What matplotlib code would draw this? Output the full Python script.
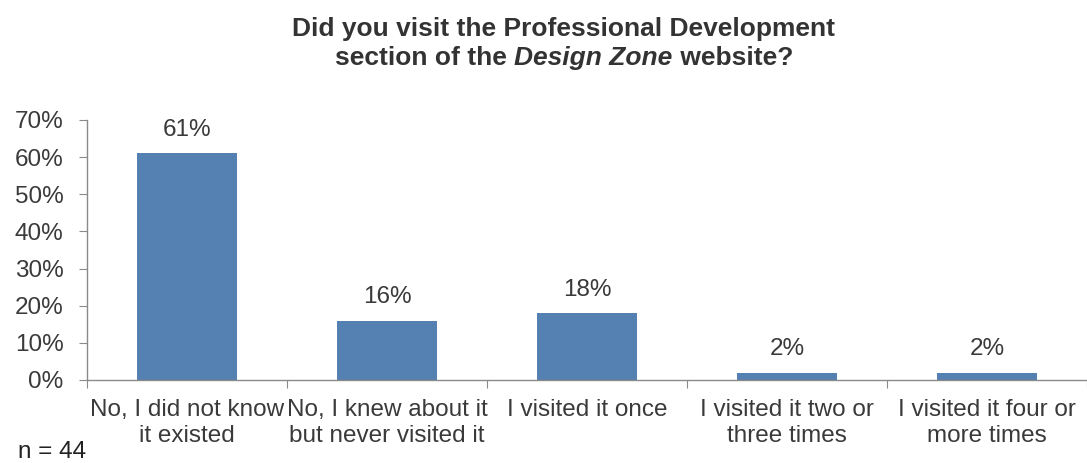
import matplotlib
matplotlib.use("Agg")
import matplotlib.pyplot as plt
import numpy as np

plt.rcParams['font.family'] = ['Liberation Sans', 'DejaVu Sans']

# Survey answers and share of respondents (%)
categories = ['No, I did not know\nit existed',
              'No, I knew about it\nbut never visited it',
              'I visited it once',
              'I visited it two or\nthree times',
              'I visited it four or\nmore times']
shares = [61, 16, 18, 2, 2]
y_ticks = [0, 10, 20, 30, 40, 50, 60, 70]
sample_note = 'n = 44'

bar_color = '#5480B2'
text_color = '#3a3a3a'
axis_color = '#8a8a8a'

fig = plt.figure(figsize=(10.87, 4.63), dpi=100)
ax = fig.add_axes([87 / 1087, 83 / 463, 1000 / 1087, 260 / 463])

x = np.arange(len(categories))
bars = ax.bar(x, shares, width=0.5, color=bar_color, zorder=2)

# value labels above each bar
for xi, v in zip(x, shares):
    ax.annotate(f'{v}%', (xi, v), xytext=(0, 9), textcoords='offset points',
                ha='center', va='bottom', fontsize=17.5, color=text_color)

ax.set_xlim(-0.5, len(categories) - 0.5)
ax.set_ylim(0, 70)
ax.set_yticks(y_ticks)
ax.set_yticklabels([f'{t}%' for t in y_ticks])

# boundary ticks between categories, labels centred on the bars
ax.set_xticks(np.arange(-0.5, len(categories)))
ax.set_xticklabels([])
ax.set_xticks(x, minor=True)
ax.set_xticklabels(categories, minor=True, fontsize=17.5, color=text_color,
                   linespacing=1.2)
ax.tick_params(axis='x', which='minor', length=0, pad=14)
ax.tick_params(axis='x', which='major', length=6, color=axis_color, direction='out')
ax.tick_params(axis='y', length=6, color=axis_color, direction='out', pad=11,
               labelsize=17.5, labelcolor=text_color)

for side in ['top', 'right']:
    ax.spines[side].set_visible(False)
for side in ['left', 'bottom']:
    ax.spines[side].set_color(axis_color)
    ax.spines[side].set_linewidth(1.0)

# title, second line mixes bold and bold-italic
title_x = 564 / 1087
title_size = 19
fig.text(title_x, 1 - 29 / 463, 'Did you visit the Professional Development',
         ha='center', va='center', fontsize=title_size, fontweight='bold',
         color='#333333')

pieces = [('section of the ', 'normal'), ('Design Zone', 'italic'), (' website?', 'normal')]
renderer = fig.canvas.get_renderer()
line2_y = 1 - 58 / 463
texts = []
widths = []
for s, style in pieces:
    t = fig.text(0, line2_y, s, ha='left', va='center', fontsize=title_size,
                 fontweight='bold', fontstyle=style, color='#333333')
    texts.append(t)
    widths.append(t.get_window_extent(renderer).width / fig.bbox.width)
start = title_x - sum(widths) / 2
for t, w in zip(texts, widths):
    t.set_x(start)
    start += w

fig.text(18 / 1087, 0.5 / 463, sample_note, ha='left', va='bottom',
         fontsize=17.5, color='#222222')

fig.savefig('out.png', dpi=100)
